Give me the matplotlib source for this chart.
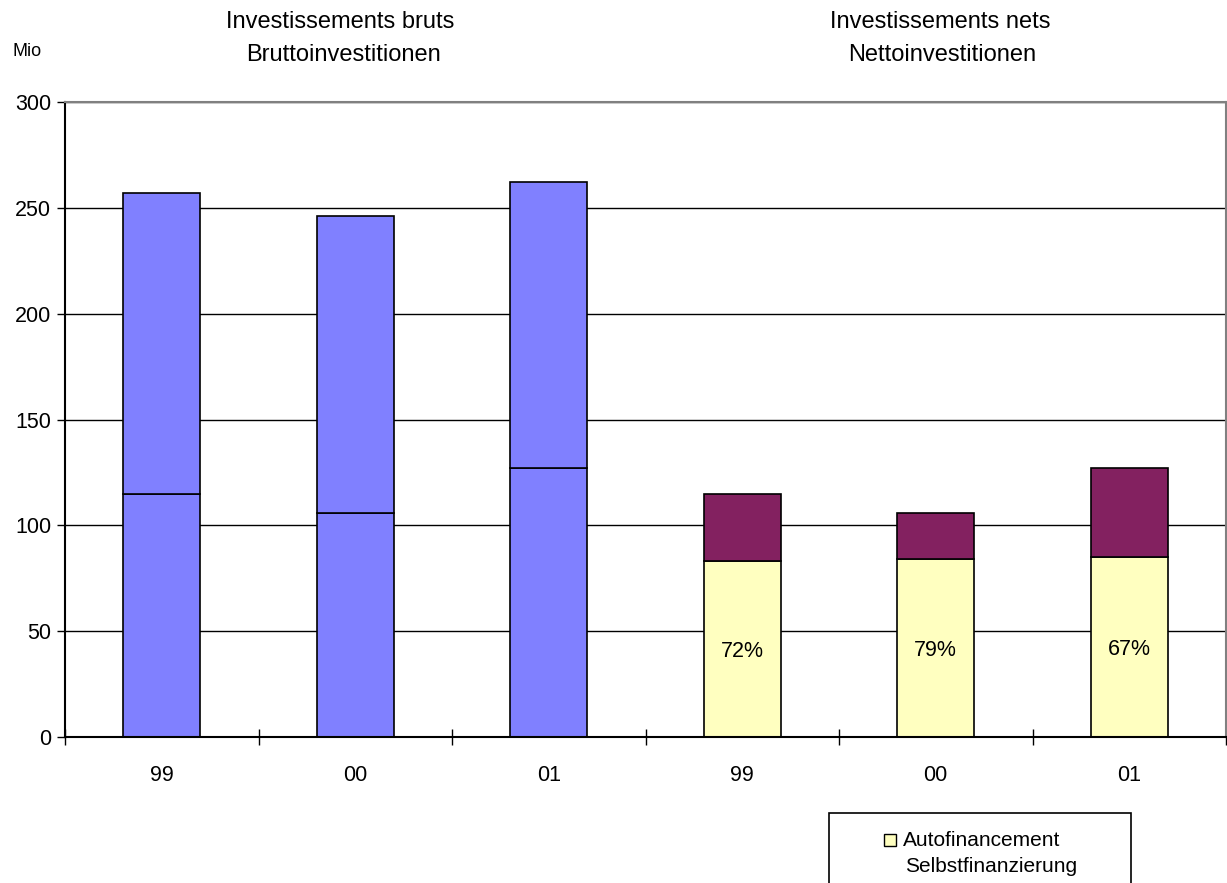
import numpy as np
import matplotlib.pyplot as plt
from matplotlib.patches import Rectangle

plt.rcParams['font.family'] = ['Liberation Sans', 'DejaVu Sans']

# Werte in Mio
jahre = ['99', '00', '01']
brutto = [257, 246, 262]
netto = [115, 106, 127]
autofin = [83, 84, 85]
prozent = ['72%', '79%', '67%']

blau = '#8080ff'
violett = '#832160'
gelb = '#ffffc0'

fig = plt.figure(figsize=(12.27, 8.83), dpi=100)
ax = fig.add_axes([65 / 1227, (883 - 737) / 883, (1226 - 65) / 1227, (737 - 102) / 883])

x_brutto = np.arange(3) + 0.5
x_netto = np.arange(3) + 3.5
breite = 0.4

ax.set_axisbelow(True)
ax.yaxis.grid(True, color='black', lw=1)

# Bruttoinvestitionen: Netto unten, Rest oben
ax.bar(x_brutto, netto, breite, color=blau, edgecolor='black', lw=1.2)
ax.bar(x_brutto, np.array(brutto) - np.array(netto), breite, bottom=netto,
       color=blau, edgecolor='black', lw=1.2)

# Nettoinvestitionen: Selbstfinanzierung + Rest
ax.bar(x_netto, autofin, breite, color=gelb, edgecolor='black', lw=1.2)
ax.bar(x_netto, np.array(netto) - np.array(autofin), breite, bottom=autofin,
       color=violett, edgecolor='black', lw=1.2)

for xi, a, p in zip(x_netto, autofin, prozent):
    ax.text(xi, a / 2 - 1, p, ha='center', va='center', fontsize=15.5)

ax.set_xlim(0, 6)
ax.set_ylim(0, 300)
ax.set_yticks(np.arange(0, 301, 50))
ax.set_xticks(np.arange(0, 7))
ax.set_xticklabels([])
ax.set_xticks(np.concatenate([x_brutto, x_netto]), minor=True)
ax.set_xticklabels(jahre + jahre, minor=True)
ax.tick_params(axis='x', which='major', direction='inout', length=12, width=1, color='black')
ax.tick_params(axis='x', which='minor', length=0, pad=20, labelsize=15.5)
ax.tick_params(axis='y', direction='out', length=6, width=1, labelsize=15.5, pad=4)

for s in ['left', 'bottom']:
    ax.spines[s].set_color('black')
    ax.spines[s].set_linewidth(1.5)
for s in ['top', 'right']:
    ax.spines[s].set_color('#808080')
    ax.spines[s].set_linewidth(1.5)

# Titel
W, H = 1227, 883
fig.text(340 / W, 1 - 22 / H, 'Investissements bruts', ha='center', va='center', fontsize=17)
fig.text(344 / W, 1 - 55 / H, 'Bruttoinvestitionen', ha='center', va='center', fontsize=17)
fig.text(940 / W, 1 - 22 / H, 'Investissements nets', ha='center', va='center', fontsize=17)
fig.text(942 / W, 1 - 55 / H, 'Nettoinvestitionen', ha='center', va='center', fontsize=17)
fig.text(12 / W, 1 - 52 / H, 'Mio', ha='left', va='center', fontsize=13)

# Legende
fig.patches.append(Rectangle((829 / W, -0.05), (1131 - 829) / W, 0.05 + (883 - 813) / H,
                             transform=fig.transFigure, facecolor='white',
                             edgecolor='black', lw=1.2))
fig.patches.append(Rectangle((884 / W, 1 - 846 / H), 12 / W, 12 / H,
                             transform=fig.transFigure, facecolor=gelb,
                             edgecolor='black', lw=1))
fig.text(903 / W, 1 - 840 / H, 'Autofinancement', ha='left', va='center', fontsize=15)
fig.text(905 / W, 1 - 867 / H, 'Selbstfinanzierung', ha='left', va='center', fontsize=15)

fig.savefig('out.png', dpi=100)
